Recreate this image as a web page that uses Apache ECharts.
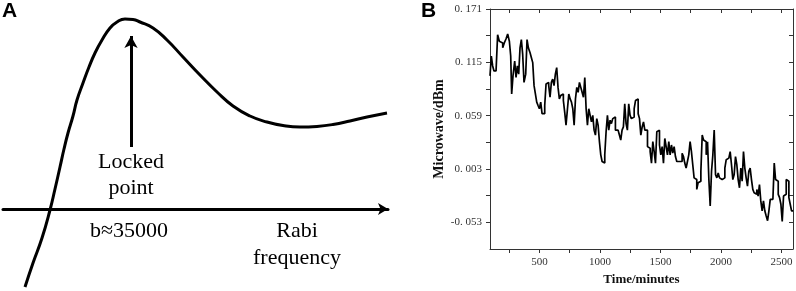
<!DOCTYPE html>
<html>
<head>
<meta charset="utf-8">
<script src="https://cdn.jsdelivr.net/npm/echarts@6/dist/echarts.min.js"></script>
<style>
  html, body { margin: 0; padding: 0; background: #fff; }
  #chart { width: 796px; height: 291px; }
</style>
</head>
<body>
<div id="chart"></div>
<script>
// ---- panel A: schematic error signal vs Rabi frequency (arbitrary units) ----
var sketchX = [22, 30, 39, 47, 52, 57, 61, 65, 70, 74, 80, 86, 92, 99, 107, 114, 122, 130, 137, 150, 164, 180, 197, 214, 230, 247, 264, 280, 297, 314, 330, 347, 364, 384]
var sketchY = [-78, -54, -29, -1, 20, 42, 60, 76, 93, 109, 126, 142, 156, 169, 181, 187, 190, 189.5, 187, 181, 169, 152, 134, 117, 103, 93, 87, 83.5, 82, 82.6, 84.5, 88, 92, 96]
var lockArrow = [[128, 62], [128, 173]]

// ---- panel B: microwave power record ----
var timeMin = [
  92, 103, 114, 125, 142, 155, 169, 183, 197, 210, 224, 238, 252, 263, 271, 282, 296, 307, 318, 329,
  340, 351, 362, 373, 387, 398, 409, 423, 434, 445,
  456, 467, 478, 489, 500, 511, 522, 533, 544, 555, 566, 577, 588, 599, 610, 621, 632, 643, 654, 665,
  676, 687, 698, 709, 720, 732, 743, 754, 765, 776, 787, 798, 809, 820, 831, 842, 853, 864, 875, 886,
  897, 908, 919, 930, 941, 952, 963, 974, 985, 996, 1007, 1018, 1029, 1040, 1051, 1062, 1073, 1084, 1095, 1106,
  1117, 1128, 1139, 1150, 1161, 1172, 1183, 1194, 1205, 1216, 1227, 1238, 1249, 1260, 1271, 1283, 1294, 1305, 1316, 1327,
  1338, 1349, 1360, 1371, 1382, 1393, 1404, 1415, 1426, 1437, 1448, 1459, 1470, 1481, 1492, 1503, 1514, 1525, 1536, 1547,
  1558, 1569, 1580, 1591, 1602, 1613, 1624, 1635, 1646, 1657, 1668, 1679, 1690, 1701, 1712, 1723, 1734, 1745, 1756, 1767,
  1778, 1789, 1800, 1811, 1822, 1834, 1845, 1856, 1867, 1878, 1889, 1900, 1911, 1922, 1933, 1944, 1955, 1966, 1977, 1988,
  1999, 2010, 2021, 2032, 2043, 2054, 2065, 2076, 2087, 2098, 2109, 2120, 2131, 2142, 2153, 2164, 2175, 2186, 2197, 2208,
  2219, 2230, 2241, 2252, 2263, 2274, 2285, 2296, 2307, 2318, 2329, 2340, 2351, 2362, 2373, 2385, 2396, 2407, 2418, 2429,
  2440, 2451, 2462, 2473, 2484, 2495, 2506, 2517, 2528, 2539, 2550, 2561, 2572, 2583, 2595
]
var powerDbm = [
  0.1008, 0.1216, 0.1112, 0.1060, 0.1060, 0.1440, 0.1371, 0.1354, 0.1302, 0.1354, 0.1395, 0.1447, 0.1371, 0.1216, 0.0818, 0.1008, 0.1164, 0.0991, 0.1112, 0.1026,
  0.1302, 0.1389, 0.1233, 0.0939, 0.1026, 0.1389, 0.1302, 0.1250, 0.1198, 0.1147,
  0.0905, 0.0818, 0.0732, 0.0697, 0.0663, 0.0732, 0.0611, 0.0611, 0.0697, 0.0922, 0.0939, 0.0905, 0.0784, 0.0939, 0.0974, 0.0905, 0.1026, 0.1095, 0.0887, 0.0766,
  0.0801, 0.0818, 0.0749, 0.0628, 0.0490, 0.0663, 0.0818, 0.0766, 0.0732, 0.0663, 0.0490, 0.0766, 0.0887, 0.0835, 0.0939, 0.0887, 0.0835, 0.0784, 0.0991, 0.0663,
  0.0490, 0.0663, 0.0593, 0.0524, 0.0593, 0.0438, 0.0386, 0.0559, 0.0490, 0.0317, 0.0179, 0.0109, 0.0092, 0.0179, 0.0421, 0.0593, 0.0438, 0.0542, 0.0507, 0.0559,
  0.0576, 0.0438, 0.0438, 0.0421, 0.0386, 0.0334, 0.0438, 0.0472, 0.0714, 0.0507, 0.0438, 0.0714, 0.0593, 0.0559, 0.0576, 0.0663, 0.0749, 0.0766, 0.0611, 0.0559,
  0.0386, 0.0472, 0.0524, 0.0438, 0.0438, 0.0265, 0.0248, 0.0213, 0.0092, 0.0317, 0.0213, 0.0092, 0.0421, 0.0438, 0.0282, 0.0179, 0.0265, 0.0092, 0.0351, 0.0265,
  0.0179, 0.0317, 0.0179, 0.0282, 0.0196, 0.0265, 0.0161, 0.0109, 0.0109, 0.0109, 0.0109, 0.0196, 0.0161, 0.0092, 0.0040, 0.0109, 0.0179, 0.0317, 0.0213, 0.0075,
  -0.0063, -0.0081, -0.0184, -0.0115, -0.0098, 0.0006, 0.0386, 0.0334, 0.0317, 0.0179, 0.0317, -0.0081, -0.0357, 0.0006, 0.0179, 0.0438, -0.0029, -0.0063, -0.0012, -0.0063,
  -0.0081, -0.0063, -0.0063, 0.0040, 0.0127, 0.0144, 0.0161, 0.0213, 0.0075, -0.0081, -0.0029, 0.0161, 0.0075, -0.0081, -0.0167, 0.0040, -0.0098, 0.0213, 0.0040, -0.0063,
  -0.0150, 0.0006, 0.0040, -0.0081, -0.0184, -0.0219, -0.0236, -0.0184, -0.0254, -0.0133, -0.0305, -0.0409, -0.0305, -0.0409, -0.0461, -0.0513, -0.0409, -0.0288, -0.0288, -0.0271,
  0.0092, -0.0081, -0.0098, -0.0236, -0.0271, -0.0340, -0.0520, -0.0254, -0.0236, -0.0081, -0.0098, -0.0271, -0.0340, -0.0409, -0.0409
]
var xTicks = [250, 500, 750, 1000, 1250, 1500, 1750, 2000, 2250, 2500]
var xLabels = [500, 1000, 1500, 2000, 2500]
var yTicks = [-0.053, -0.025, 0.003, 0.031, 0.059, 0.087, 0.115, 0.143, 0.171]
var yLabels = [-0.053, 0.003, 0.059, 0.115, 0.171]

var sketchData = sketchX.map(function (x, i) { return [x, sketchY[i]] })
var recordData = timeMin.map(function (t, i) { return [t, powerDbm[i]] })

var serif = '"Liberation Serif", "Times New Roman", serif'
var frameLine = { show: true, onZero: false, lineStyle: { color: '#333', width: 1 } }

var chart = echarts.init(document.getElementById('chart'))
chart.setOption({
  animation: false,
  backgroundColor: '#fff',
  grid: [
    { left: 3, top: 0, width: 385, height: 291 },
    { left: 490, top: 9, width: 303, height: 242 }
  ],
  xAxis: [
    {
      gridIndex: 0, type: 'value', min: 0, max: 385,
      axisLine: { show: true, onZero: true, symbol: ['none', 'arrow'], symbolSize: [9, 10], lineStyle: { color: '#000', width: 3 } },
      axisTick: { show: false }, axisLabel: { show: false }, splitLine: { show: false }
    },
    {
      gridIndex: 1, type: 'value', min: 92, max: 2595, position: 'bottom',
      axisLine: frameLine,
      axisTick: { show: true, length: 4, customValues: xTicks, lineStyle: { color: '#333' } },
      axisLabel: {
        customValues: xLabels, margin: 8, color: '#333', fontFamily: serif, fontSize: 11,
        formatter: function (v) { return String(v) }
      },
      splitLine: { show: false },
      name: 'Time/minutes', nameLocation: 'middle', nameGap: 24,
      nameTextStyle: { fontFamily: serif, fontWeight: 'bold', fontSize: 13, color: '#111' }
    },
    {
      gridIndex: 1, type: 'value', min: 92, max: 2595, position: 'top',
      axisLine: frameLine,
      axisTick: { show: true, inside: true, length: 4, customValues: xTicks, lineStyle: { color: '#333' } },
      axisLabel: { show: false }, splitLine: { show: false }
    }
  ],
  yAxis: [
    {
      gridIndex: 0, type: 'value', min: -82, max: 209, show: false
    },
    {
      gridIndex: 1, type: 'value', min: -0.081, max: 0.171, position: 'left',
      axisLine: frameLine,
      axisTick: { show: true, length: 4, customValues: yTicks, lineStyle: { color: '#333' } },
      axisLabel: {
        customValues: yLabels, margin: 8, color: '#333', fontFamily: serif, fontSize: 11,
        formatter: function (v) { return v.toFixed(3).replace('.', '. ') }
      },
      splitLine: { show: false },
      name: 'Microwave/dBm', nameLocation: 'middle', nameGap: 44,
      nameTextStyle: { fontFamily: serif, fontWeight: 'bold', fontSize: 14, color: '#111' }
    },
    {
      gridIndex: 1, type: 'value', min: -0.081, max: 0.171, position: 'right',
      axisLine: frameLine,
      axisTick: { show: true, inside: true, length: 4, customValues: yTicks, lineStyle: { color: '#333' } },
      axisLabel: { show: false }, splitLine: { show: false }
    }
  ],
  series: [
    {
      type: 'line', xAxisIndex: 0, yAxisIndex: 0,
      data: sketchData, smooth: 0.5, showSymbol: false, clip: false,
      lineStyle: { color: '#000', width: 3 },
      markLine: {
        silent: true, symbol: ['none', 'arrow'], symbolSize: [10, 12],
        label: { show: false },
        lineStyle: { color: '#000', width: 3, type: 'solid' },
        data: [[{ coord: lockArrow[0] }, { coord: lockArrow[1] }]]
      }
    },
    {
      type: 'line', xAxisIndex: 1, yAxisIndex: 1,
      data: recordData, step: 'end', showSymbol: false,
      lineStyle: { color: '#000', width: 1.7 }
    }
  ],
  graphic: [
    { type: 'text', left: 2, top: 1, style: { text: 'A', font: 'bold 21px "Liberation Sans", Arial, sans-serif', fill: '#000' } },
    { type: 'text', left: 421, top: 1, style: { text: 'B', font: 'bold 21px "Liberation Sans", Arial, sans-serif', fill: '#000' } },
    { type: 'text', x: 131, y: 175, style: { text: 'Locked\npoint', font: '22px ' + serif, lineHeight: 26, fill: '#000', align: 'center', verticalAlign: 'middle' } },
    { type: 'text', x: 129, y: 231, style: { text: 'b\u224835000', font: '22px ' + serif, fill: '#000', align: 'center', verticalAlign: 'middle' } },
    { type: 'text', x: 297, y: 245, style: { text: 'Rabi\nfrequency', font: '22px ' + serif, lineHeight: 27, fill: '#000', align: 'center', verticalAlign: 'middle' } }
  ]
})
</script>
</body>
</html>
